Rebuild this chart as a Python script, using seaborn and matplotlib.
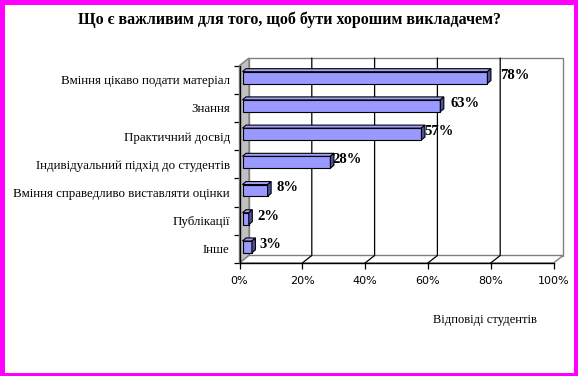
import numpy as np
import pandas as pd
import matplotlib
matplotlib.use("Agg")
import matplotlib.pyplot as plt
import seaborn as sns
from matplotlib.patches import Polygon, Rectangle
from matplotlib.lines import Line2D
from matplotlib.transforms import IdentityTransform, ScaledTranslation

# ---------------- data ----------------
categories = ["Вміння цікаво подати матеріал", "Знання", "Практичний досвід",
              "Індивідуальний підхід до студентів",
              "Вміння справедливо виставляти оцінки", "Публікації", "Інше"]
values = [78, 63, 57, 28, 8, 2, 3]
x_ticks = [0, 20, 40, 60, 80, 100]
x_tick_labels = ["0%", "20%", "40%", "60%", "80%", "100%"]
title = "Що є важливим для того, щоб бути хорошим викладачем?"
x_label = "Відповіді студентів"

# ---------------- style / layout ----------------
label_dx_px = [13, 10, 3, 2, 9, 9, 8]   # label gap after bar end (pixels)
W, H, DPI = 578, 376, 100
BAR_COLOR = "#9999FF"
TOP_COLOR = "#A3A3FF"
SIDE_COLOR = "#5050A0"

sns.set_style("ticks")
plt.rcParams["font.family"] = ["Liberation Serif", "DejaVu Serif"]
plt.rcParams["text.color"] = "black"
plt.rcParams["xtick.labelcolor"] = "black"
plt.rcParams["ytick.labelcolor"] = "black"
plt.rcParams["axes.labelcolor"] = "black"

fig = plt.figure(figsize=(W / DPI, H / DPI), dpi=DPI)
fig.patch.set_facecolor("white")

# front plane of the 3-D box (pixels)
X0, X1 = 239.5, 553.5
Y0, Y1 = 65.5, 263.0
ax = fig.add_axes([X0 / W, 1 - Y1 / H, (X1 - X0) / W, (Y1 - Y0) / H])
ax.set_facecolor("none")

df = pd.DataFrame({"cat": categories, "val": values})
sns.barplot(data=df, x="val", y="cat", orient="h", color=BAR_COLOR, width=0.42,
            saturation=1, edgecolor="black", linewidth=0.8, ax=ax, zorder=5)
n = len(categories)
ax.set_xlim(0, 100)
ax.set_ylim(n - 0.5, -0.5)
ax.set_xlabel("")
ax.set_ylabel("")

# depth of box and bars (display pixels, y up)
DX, DY = 9.5, 7.5
BOX, BOY = 3.0, 2.0       # bar front face offset into depth
BDX, BDY = 3.5, 3.0       # bar depth

ident = IdentityTransform()

# walls and floor
fl, fb = ax.transData.transform((0, n - 0.5))
fr, ft = ax.transData.transform((100, -0.5))
back = Polygon([(fl + DX, fb + DY), (fr + DX, fb + DY), (fr + DX, ft + DY), (fl + DX, ft + DY)],
               closed=True, transform=ident, facecolor="white", edgecolor="#808080",
               lw=1, zorder=0.5, clip_on=False)
side = Polygon([(fl, fb), (fl, ft), (fl + DX, ft + DY), (fl + DX, fb + DY)],
               closed=True, transform=ident, facecolor="#C0C0C0", edgecolor="#808080",
               lw=1, zorder=0.6, clip_on=False)
floor = Polygon([(fl, fb), (fr, fb), (fr + DX, fb + DY), (fl + DX, fb + DY)],
                closed=True, transform=ident, facecolor="white", edgecolor="#808080",
                lw=1, zorder=0.6, clip_on=False)
for p in (back, side, floor):
    ax.add_patch(p)

for t in x_ticks[1:-1]:
    xd = ax.transData.transform((t, n - 0.5))[0]
    ax.add_line(Line2D([xd, xd + DX, xd + DX], [fb, fb + DY, ft + DY], transform=ident,
                       color="black", lw=0.9, zorder=0.8, clip_on=False))

# bars: shift into depth and add 3-D faces
shift = ax.transData + ScaledTranslation(BOX / DPI, BOY / DPI, fig.dpi_scale_trans)
for p in ax.patches[:]:
    if not isinstance(p, Rectangle) or p.get_width() <= 0:
        continue
    p.set_transform(shift)
    x, y, w, h = p.get_x(), p.get_y(), p.get_width(), p.get_height()
    (L, b1), (R, b2) = shift.transform([(x, y), (x + w, y + h)])
    B, T = min(b1, b2), max(b1, b2)
    top = Polygon([(L, T), (R, T), (R + BDX, T + BDY), (L + BDX, T + BDY)], closed=True,
                  transform=ident, facecolor=TOP_COLOR, edgecolor="black", lw=0.8,
                  zorder=5, clip_on=False)
    sd = Polygon([(R, B), (R, T), (R + BDX, T + BDY), (R + BDX, B + BDY)], closed=True,
                 transform=ident, facecolor=SIDE_COLOR, edgecolor="black", lw=0.8,
                 zorder=5, clip_on=False)
    ax.add_patch(top)
    ax.add_patch(sd)

# value labels
for i, (v, dxp) in enumerate(zip(values, label_dx_px)):
    ax.annotate(f"{v}%", xy=(v, i), xytext=((BOX + dxp) * 0.72, 4.5 * 0.72),
                textcoords="offset points", ha="left", va="center",
                fontsize=10.5, fontweight="bold", color="black", zorder=6,
                annotation_clip=False)

# spines and ticks
for s in ("top", "right"):
    ax.spines[s].set_visible(False)
for s in ("left", "bottom"):
    ax.spines[s].set_color("black")
    ax.spines[s].set_linewidth(1)
    ax.spines[s].set_zorder(7)

ax.set_xticks(x_ticks)
ax.set_xticklabels(x_tick_labels, fontfamily="DejaVu Sans", fontsize=8)
ax.tick_params(axis="x", which="major", bottom=True, direction="out", length=4,
               width=0.9, color="black", pad=5, labelcolor="black")
ax.set_yticks(range(n))
ax.set_yticklabels(categories, fontsize=9.25)
ax.tick_params(axis="y", which="major", left=True, length=0, pad=7, labelcolor="black")
ax.set_yticks(np.arange(-0.5, n, 1), minor=True)
ax.tick_params(axis="y", which="minor", left=True, direction="out", length=4,
               width=0.9, color="black")

# texts
fig.text(289 / W, 1 - 20 / H, title, ha="center", va="center",
         fontsize=11.5, fontweight="bold", color="black")
fig.text(485 / W, 1 - 320 / H, x_label, ha="center", va="center", fontsize=9,
         color="black")

# magenta frame
mag = "#FF00FF"
for (x, y, w, h) in [(0, 0, 5, H), (574, 0, 4, H), (0, 0, W, 5), (0, 373, W, 3)]:
    fig.patches.append(Rectangle((x / W, 1 - (y + h) / H), w / W, h / H,
                                 transform=fig.transFigure, facecolor=mag,
                                 edgecolor="none", zorder=10))

fig.savefig("out.png", dpi=DPI)
